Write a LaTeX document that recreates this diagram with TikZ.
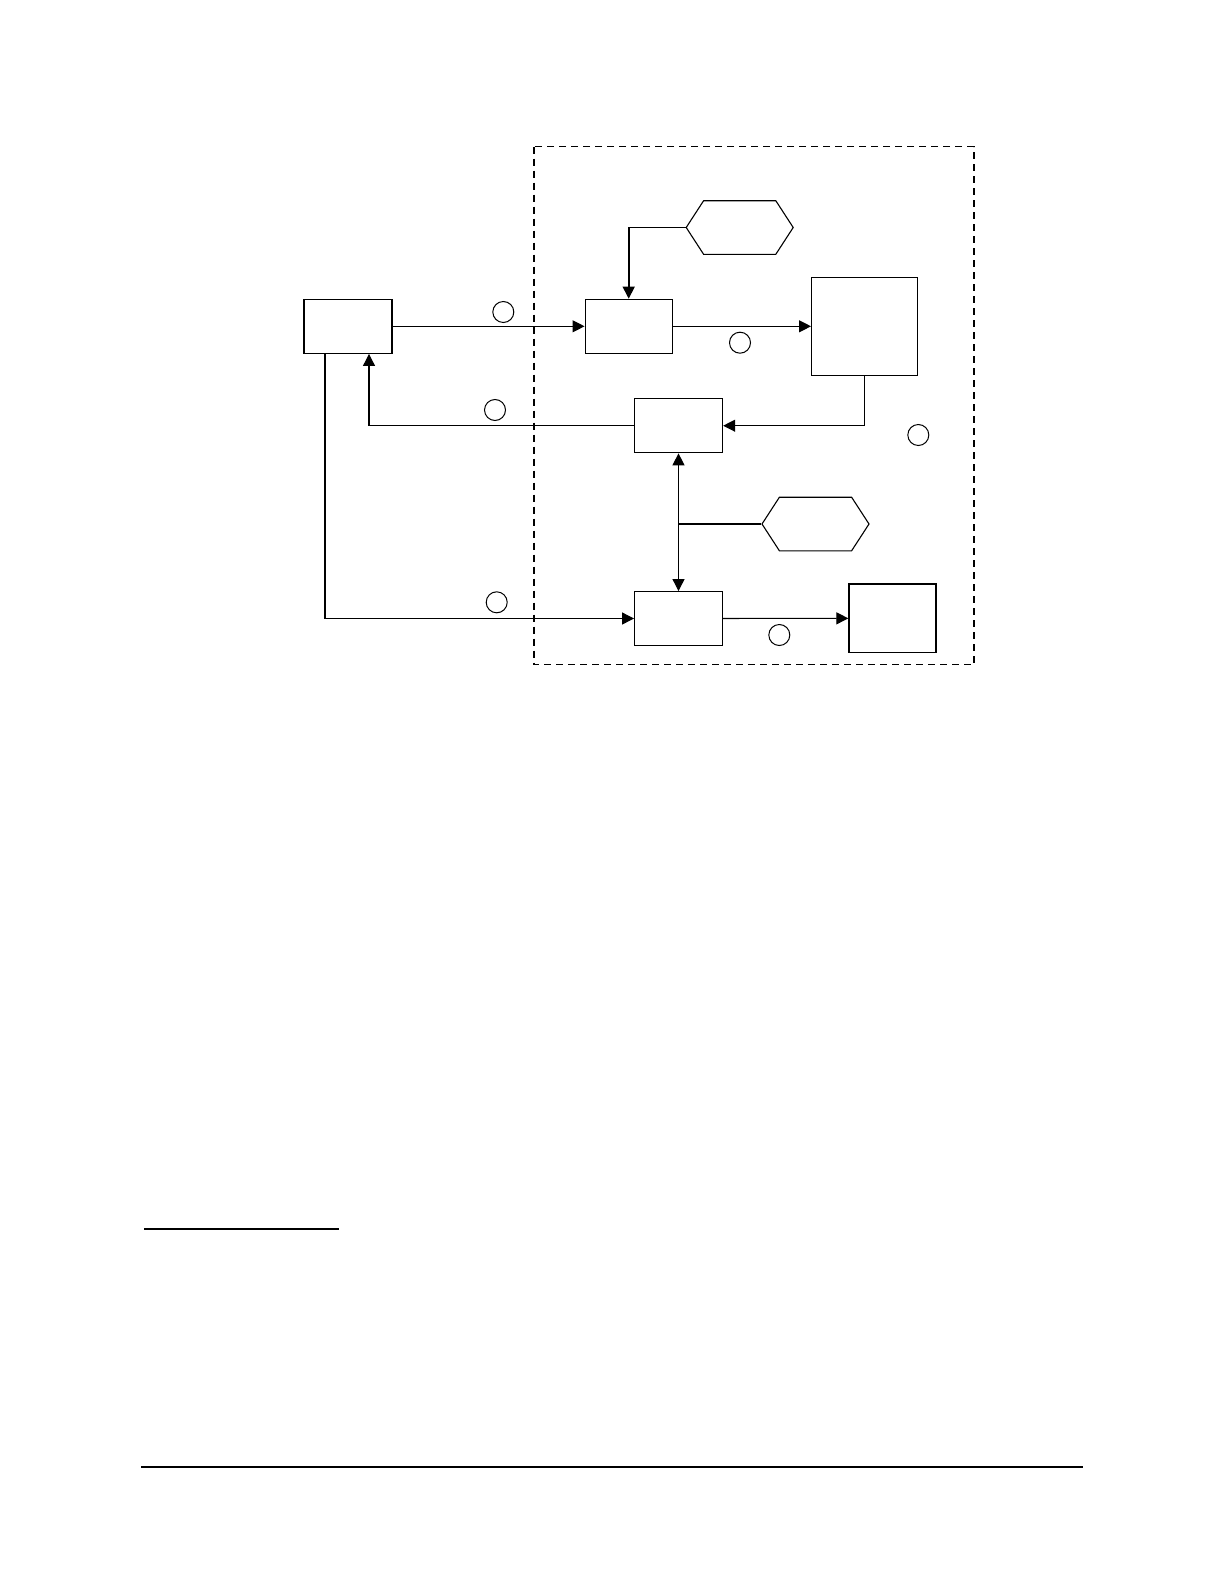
\documentclass[tikz,border=0pt]{standalone}
\usepackage{tikz}
\usetikzlibrary{positioning, arrows.meta, shapes.symbols, calc}
\tikzset{
    block/.style={rectangle, draw=black, fill=white, line width=0.65pt, inner sep=0pt, minimum width=#1},
    block/.default=44pt,
    hexbox/.style={signal, signal to=east and west, signal pointer angle=114, draw=black, line width=0.55pt, minimum width=53.5pt, minimum height=26.8pt, inner sep=0pt},
    marker/.style={circle, draw=black, line width=0.5pt, minimum size=10.5pt, inner sep=0pt},
    arr/.style={-{Triangle[length=6pt, width=6pt]}, line width=0.55pt},
    arrboth/.style={{Triangle[length=6pt, width=6pt]}-{Triangle[length=6pt, width=6pt]}, line width=0.55pt},
    boundary/.style={draw=black, line width=0.7pt, dash pattern=on 3.5pt off 2.5pt},
    rule/.style={line width=1pt}
}
\begin{document}
\begin{tikzpicture}[x=0.5pt, y=-0.5pt]
        \useasboundingbox (0,0) rectangle (1224,1584);

        % System boundary
        \draw[boundary] (534,146.7) rectangle (974,664.7);

        % Blocks
        \node[block, minimum height=27pt] (src) at (348,326.3) {};
        \node[block=43.5pt, minimum height=27pt] (proc) at (628.7,326.3) {};
        \node[block=52.8pt, minimum height=49pt] (store) at (864.5,326.3) {};
        \node[block, minimum height=27pt] (ret) at (678.5,425.7) {};
        \node[block=43.8pt, minimum height=26.8pt] (out) at (678.5,618.5) {};
        \node[block=43.5pt, minimum height=34.3pt] (sink) at (892.5,618.3) {};

        % Hexagons
        \node[hexbox] (hexA) at (739.7,227.5) {};
        \node[hexbox] (hexB) at (815.5,524) {};

        % Connectors
        \draw[arr] (src) -- (proc);
        \draw[arr, line width=0.8pt] (hexA.west) -| (proc.north);
        \draw[arr] (proc) -- (store);
        \draw[arr] (store.south) |- (ret.east);
        \draw[arr] (ret.west) -| ([xshift=10.5pt]src.south);
        \draw[arr] ([xshift=-11.5pt]src.south) |- (out.west);
        \draw[arrboth] (ret.south) -- (out.north);
        \draw[line width=0.55pt] (hexB.west) -- (hexB.west -| ret.south);
        \draw[arr] (out) -- (sink);

        % Step markers
        \node[marker] (m1) at (503.3,312) {};
        \node[marker] (m2) at (740,342.7) {};
        \node[marker] (m3) at (495,410) {};
        \node[marker] (m4) at (918.3,435) {};
        \node[marker] (m5) at (496.7,602.3) {};
        \node[marker] (m6) at (779.3,635) {};

        % Page rules
        \draw[rule] (144,1229) -- (339,1229);
        \draw[rule] (141,1466.5) -- (1083,1466.5);
    \end{tikzpicture}
\end{document}
